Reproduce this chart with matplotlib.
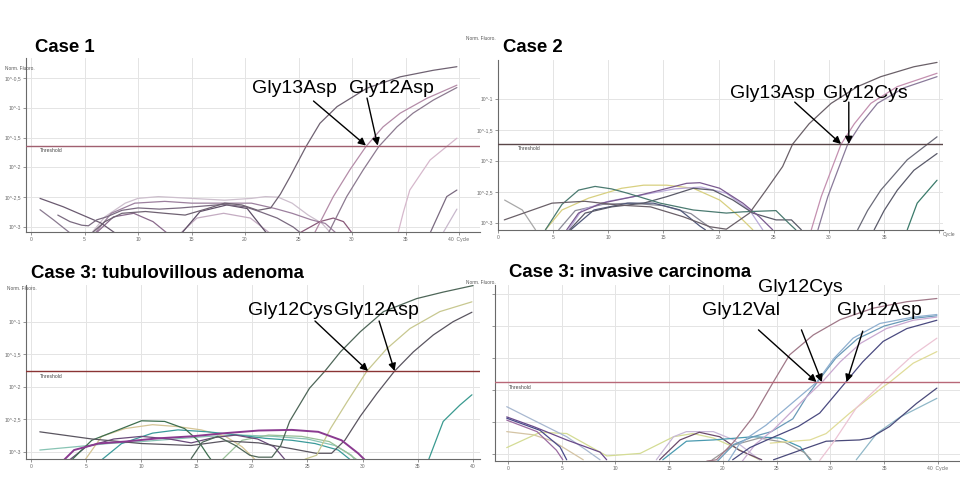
import numpy as np
import matplotlib
matplotlib.use('Agg')
import matplotlib.pyplot as plt

plt.rcParams['font.family'] = ['Liberation Sans', 'DejaVu Sans']

# x axis: PCR cycle, y axis: log10 of normalised fluorescence
cycle_ticks = [0, 5, 10, 15, 20, 25, 30, 35, 40]
log_ticks = [-0.5, -1.0, -1.5, -2.0, -2.5, -3.0]
log_tick_labels = ['10^-0,5', '10^-1', '10^-1,5', '10^-2', '10^-2,5', '10^-3']

titles = ['Case 1', 'Case 2', 'Case 3: tubulovillous adenoma', 'Case 3: invasive carcinoma']
thresholds = [-1.633, -1.726, -1.754, -1.875]

# ---------------- Case 1 ----------------
p1_a = [(5.7, -3.1), (6.9, -2.91), (8.5, -2.77), (10.7, -2.74), (12.5, -2.77), (14.4, -2.8), (16.5, -2.69),
        (18.1, -2.6), (19.7, -2.63), (21.2, -2.72), (22.4, -2.68), (23.3, -2.45), (24.2, -2.16), (25.7, -1.65),
        (27.0, -1.26), (28.6, -0.98), (31.4, -0.67), (34.5, -0.48), (37.6, -0.37), (39.8, -0.31)]
p1_b = [(26.5, -3.1), (28.25, -2.49), (29.8, -2.04), (31.3, -1.65), (32.9, -1.32), (34.5, -1.09), (37.0, -0.84), (39.8, -0.62)]
p1_c = [(27.8, -3.1), (29.5, -2.49), (31.05, -2.04), (32.5, -1.65), (34.2, -1.32), (35.7, -1.09), (37.6, -0.87), (39.8, -0.66)]
p1_d = [(34.3, -3.1), (34.8, -2.75), (35.4, -2.38), (37.3, -1.875), (39.8, -1.51)]
p1_e = [(37.3, -3.1), (38.85, -2.49), (39.8, -2.38)]
p1_f = [(38.5, -3.1), (39.8, -2.7)]
p1_g = [(0.84, -2.52), (3.0, -2.66), (5.2, -2.83), (6.5, -2.93), (7.85, -3.1)]
p1_h = [(0.84, -2.71), (2.1, -2.88), (3.64, -3.1)]
p1_i = [(2.5, -2.8), (3.64, -2.91), (4.74, -2.97), (5.36, -2.98), (6.14, -2.88), (7.07, -2.83), (8.5, -2.72),
        (10.0, -2.68), (12.0, -2.7), (14.0, -2.68), (16.0, -2.65), (18.0, -2.62), (20.0, -2.66), (21.5, -2.75),
        (23.0, -2.85), (24.5, -3.0), (25.2, -3.1)]
p1_j = [(5.67, -3.1), (6.9, -2.83), (8.8, -2.6), (10.0, -2.52), (11.9, -2.49), (15.0, -2.52), (18.1, -2.55),
        (20.6, -2.52), (21.9, -2.49), (23.1, -2.5), (24.4, -2.6), (25.9, -2.8), (27.2, -2.94), (28.0, -3.1)]
p1_k = [(6.0, -3.1), (7.5, -2.77), (9.7, -2.6), (12.5, -2.57), (15.0, -2.6), (18.1, -2.6), (20.6, -2.6),
        (22.8, -2.69), (24.4, -2.77), (26.2, -2.88), (27.5, -2.94), (28.5, -3.1)]
p1_l = [(6.1, -3.1), (7.7, -2.83), (9.6, -2.77), (11.4, -2.91), (12.7, -3.1)]
p1_m = [(14.1, -3.1), (15.8, -2.74), (18.3, -2.63), (20.2, -2.69), (22.0, -3.1)]
p1_n = [(14.0, -3.1), (15.5, -2.85), (18.0, -2.77), (20.5, -2.85), (22.3, -3.1)]
p1_o = [(25.1, -3.1), (27.0, -2.91), (28.25, -2.85), (29.2, -2.91), (30.0, -3.1)]

# ---------------- Case 2 ----------------
p2_a = [(0.57, -2.95), (4.89, -2.68), (7.87, -2.65), (10.85, -2.71), (13.83, -2.74), (16.8, -2.9), (19.2, -3.06),
        (20.7, -3.1), (22.8, -2.84), (24.3, -2.47), (25.8, -2.09), (26.7, -1.73), (28.2, -1.40), (30.2, -1.07),
        (32.6, -0.80), (34.7, -0.64), (37.7, -0.48), (39.8, -0.41)]
p2_b = [(28.4, -3.11), (29.3, -2.575), (30.2, -2.15), (31.1, -1.73), (32.3, -1.40), (33.8, -1.07), (36.2, -0.80), (39.8, -0.585)]
p2_c = [(29.0, -3.11), (29.9, -2.575), (30.8, -2.15), (31.7, -1.73), (32.9, -1.40), (34.4, -1.07), (36.8, -0.82), (39.8, -0.64)]
p2_d = [(32.6, -3.11), (33.5, -2.8), (34.7, -2.47), (37.1, -1.98), (39.8, -1.61)]
p2_e = [(34.1, -3.11), (35.0, -2.8), (36.2, -2.47), (37.7, -2.15), (39.8, -1.88)]
p2_f = [(37.1, -3.11), (38.0, -2.68), (39.8, -2.31)]
p2_g = [(4.3, -3.11), (5.8, -2.7), (7.3, -2.47), (8.8, -2.41), (10.3, -2.45), (11.75, -2.52), (14.7, -2.68),
        (17.7, -2.79), (20.7, -2.84), (22.2, -2.82), (25.2, -2.8), (26.4, -3.01), (27.0, -3.11)]
p2_h = [(4.3, -3.11), (5.8, -2.79), (8.2, -2.6), (11.2, -2.44), (13.2, -2.39), (15.3, -2.39), (17.7, -2.44),
        (20.1, -2.63), (21.9, -2.9), (23.1, -3.11)]
p2_i = [(6.23, -3.11), (7.3, -2.84), (9.4, -2.68), (12.3, -2.575), (14.7, -2.47), (17.1, -2.36), (18.3, -2.35),
        (20.1, -2.44), (22.2, -2.68), (23.7, -2.9), (24.9, -3.11)]
p2_j = [(6.4, -3.11), (7.6, -2.79), (10.0, -2.65), (13.0, -2.55), (16.0, -2.45), (18.4, -2.42), (20.7, -2.52),
        (22.8, -2.79), (24.0, -3.11)]
p2_k = [(6.5, -3.11), (7.9, -2.84), (10.3, -2.74), (13.2, -2.68), (15.3, -2.575), (17.7, -2.44), (19.5, -2.47),
        (21.3, -2.63), (23.1, -2.84), (25.2, -2.95), (26.6, -2.95), (27.5, -3.11)]
p2_l = [(6.6, -3.11), (8.7, -2.79), (11.75, -2.68), (14.1, -2.68), (16.5, -2.79), (18.3, -3.05), (18.8, -3.11)]
p2_m = [(0.6, -2.63), (2.2, -2.79), (3.4, -3.11)]
p2_n = [(5.5, -3.11), (7.0, -2.8), (9.5, -2.7), (12.0, -2.68), (15.0, -2.72), (17.5, -2.85), (19.5, -3.11)]

# ---------------- Case 3: tubulovillous adenoma ----------------
p3_a = [(14.5, -3.1), (15.5, -2.85), (16.9, -2.76), (18.5, -2.9), (19.8, -3.05), (20.6, -3.08), (21.8, -3.08),
        (22.6, -2.9), (23.4, -2.53), (25.2, -2.02), (26.6, -1.755), (28.0, -1.46), (29.8, -1.15), (31.9, -0.84),
        (34.9, -0.64), (37.3, -0.54), (40.0, -0.44)]
p3_b = [(24.8, -3.11), (25.85, -3.05), (27.1, -2.64), (28.6, -2.23), (30.4, -1.755), (32.2, -1.41), (34.3, -1.10),
        (37.0, -0.84), (39.9, -0.69)]
p3_c = [(0.8, -2.69), (5.5, -2.8), (10.0, -2.87), (14.5, -2.9), (17.6, -2.83), (20.6, -2.86), (23.6, -2.95),
        (25.8, -3.02), (27.2, -3.02), (28.4, -2.82), (29.8, -2.45), (31.3, -2.1), (32.9, -1.755), (34.6, -1.46),
        (36.4, -1.20), (38.2, -0.995), (39.9, -0.85)]
p3_d = [(3.7, -3.12), (5.5, -2.82), (7.9, -2.66), (10.0, -2.52), (12.1, -2.53), (13.9, -2.64), (15.1, -2.82),
        (16.0, -3.05), (16.3, -3.12)]
p3_e = [(4.9, -3.12), (6.4, -2.76), (8.5, -2.64), (11.0, -2.58), (13.3, -2.61), (15.4, -2.66), (17.6, -2.76),
        (19.1, -2.92), (20.3, -3.12)]
p3_f = [(6.4, -3.12), (8.2, -2.87), (11.0, -2.71), (13.3, -2.66), (16.0, -2.69), (18.8, -2.74), (21.2, -2.79),
        (23.6, -2.82), (25.7, -2.87), (27.8, -2.97), (28.9, -3.12)]
p3_g = [(3.0, -3.12), (3.9, -2.97), (6.1, -2.87), (8.5, -2.84), (11.5, -2.79), (14.5, -2.76), (17.6, -2.71),
        (20.6, -2.67), (23.6, -2.66), (26.0, -2.69), (28.1, -2.82), (29.6, -3.02), (30.2, -3.12)]
p3_h = [(0.8, -2.97), (4.0, -2.92), (7.0, -2.87), (10.0, -2.84), (13.0, -2.8), (16.0, -2.76), (19.0, -2.74),
        (22.0, -2.76), (25.0, -2.8), (27.5, -2.9), (29.0, -3.05), (29.3, -3.12)]
p3_i = [(3.5, -3.12), (5.0, -2.92), (7.5, -2.8), (10.0, -2.76), (12.5, -2.8), (14.5, -2.86), (16.5, -2.78),
        (18.5, -2.74), (20.5, -2.8), (22.0, -2.92), (23.0, -3.12)]
p3_j = [(17.3, -3.12), (19.1, -2.82), (21.5, -2.74), (24.5, -2.76), (27.0, -2.84), (28.5, -3.0), (29.5, -3.12)]
p3_k = [(36.0, -3.11), (37.3, -2.53), (38.8, -2.28), (39.9, -2.12)]

# ---------------- Case 3: invasive carcinoma ----------------
p4_a = [(18.5, -3.11), (19.4, -3.09), (21.0, -2.81), (22.8, -2.42), (24.7, -1.87), (26.2, -1.45), (28.4, -1.14),
        (30.9, -0.9), (34.0, -0.72), (37.1, -0.62), (39.9, -0.57)]
p4_b = [(20.5, -3.11), (21.5, -2.85), (22.5, -2.72), (24.0, -2.55), (25.9, -2.28), (28.7, -1.88), (30.3, -1.51),
        (32.1, -1.19), (34.6, -0.96), (37.7, -0.86), (39.9, -0.82)]
p4_b2 = [(19.5, -3.11), (21.0, -2.85), (22.8, -2.73), (24.5, -2.65), (26.5, -2.45), (27.8, -2.1), (28.9, -1.85),
         (30.5, -1.5), (32.5, -1.2), (35.0, -1.0), (37.7, -0.88), (39.9, -0.84)]
p4_c = [(21.8, -3.11), (23.0, -2.85), (24.7, -2.62), (27.2, -2.2), (29.2, -1.88), (30.9, -1.56), (32.8, -1.27),
        (35.2, -1.04), (37.7, -0.91), (39.9, -0.86)]
p4_d = [(20.9, -3.09), (22.5, -2.9), (24.1, -2.78), (27.0, -2.57), (29.0, -2.36), (30.3, -2.1), (31.4, -1.88),
        (33.0, -1.56), (34.9, -1.24), (37.1, -1.04), (39.9, -0.91)]
p4_e = [(29.0, -3.1), (30.3, -2.81), (32.4, -2.28), (34.9, -1.88), (37.7, -1.45), (39.9, -1.19)]
p4_f = [(24.4, -2.83), (26.5, -2.8), (28.1, -2.78), (29.6, -2.68), (31.8, -2.36), (34.9, -1.95), (35.5, -1.88),
        (37.7, -1.58), (39.9, -1.40)]
p4_g = [(24.7, -3.09), (27.2, -2.94), (29.6, -2.8), (32.7, -2.78), (33.7, -2.75), (35.5, -2.57), (38.0, -2.21), (39.9, -1.97)]
p4_h = [(32.4, -3.09), (34.3, -2.68), (36.5, -2.42), (39.9, -2.13)]
p4_i = [(-0.12, -2.26), (2.36, -2.47), (5.46, -2.73), (7.3, -2.94), (8.56, -3.09)]
p4_j = [(-0.12, -2.42), (2.36, -2.57), (5.46, -2.78), (8.56, -2.97), (9.18, -3.09)]
p4_k = [(-0.12, -2.44), (2.98, -2.63), (4.84, -2.89), (5.46, -3.09)]
p4_l = [(-0.12, -2.47), (2.7, -2.65), (4.5, -2.94), (5.1, -3.09)]
p4_m = [(-0.12, -2.65), (2.36, -2.7), (4.2, -2.8), (7.0, -3.09)]
p4_n = [(-0.12, -2.9), (3.0, -2.66), (5.46, -2.68), (9.2, -3.03), (12.3, -2.99), (15.4, -2.73), (17.2, -2.68),
        (19.1, -2.75), (21.0, -2.89), (23.4, -3.09)]
p4_o = [(13.8, -3.09), (15.4, -2.73), (16.6, -2.65), (19.1, -2.65), (21.0, -2.78), (23.4, -3.09)]
p4_p = [(14.1, -3.09), (16.0, -2.78), (17.8, -2.66), (19.7, -2.73), (21.5, -2.94), (23.6, -3.09)]
p4_q = [(14.4, -3.09), (16.6, -2.8), (19.1, -2.78), (22.8, -2.73), (25.3, -2.75), (27.2, -2.89), (28.1, -3.09)]
p4_r = [(19.0, -3.09), (21.0, -2.86), (23.4, -2.75), (25.8, -2.82), (27.6, -2.98), (28.2, -3.09)]

# mutation labels: (text, label x, label baseline y, arrow start, arrow tip)
p1_labels = [('Gly13Asp', 24.6, -0.746, (26.4, -0.886), (31.3, -1.633)),
             ('Gly12Asp', 33.7, -0.746, (31.4, -0.836), (32.4, -1.633))]
p2_labels = [('Gly13Asp', 24.9, -0.98, (26.9, -1.05), (31.1, -1.726)),
             ('Gly12Cys', 33.3, -0.98, (31.8, -1.05), (31.8, -1.726))]
p3_labels = [('Gly12Cys', 23.5, -0.89, (25.7, -0.985), (30.5, -1.754)),
             ('Gly12Asp', 31.3, -0.89, (31.5, -0.985), (32.9, -1.754))]
p4_labels = [('Gly12Cys', 27.2, -0.47, (27.3, -1.06), (29.2, -1.875)),
             ('Gly12Val', 21.7, -0.83, (23.3, -1.06), (28.7, -1.875)),
             ('Gly12Asp', 34.6, -0.83, (33.0, -1.08), (31.5, -1.875))]

W, H = 960, 497
fig = plt.figure(figsize=(W / 100, H / 100), dpi=100)
fig.patch.set_facecolor('white')


def rect_px(left, top, right, bottom):
    return [left / W, 1 - bottom / H, (right - left) / W, (bottom - top) / H]


def draw_curve(ax, pts, color, lw=0.9):
    arr = np.array(pts)
    ax.plot(arr[:, 0], arr[:, 1], color=color, lw=lw, solid_capstyle='round')


def setup(ax, xlim, ylim, thr, thr_color, last_label, show_ylabels=True):
    ax.set_xlim(xlim)
    ax.set_ylim(ylim)
    for s in ['top', 'right']:
        ax.spines[s].set_visible(False)
    for s in ['left', 'bottom']:
        ax.spines[s].set_color('#6a6a6a')
        ax.spines[s].set_linewidth(0.8)
    ax.set_xticks(cycle_ticks)
    ax.set_xticklabels([str(c) for c in cycle_ticks[:-1]] + [last_label])
    ax.set_yticks(log_ticks)
    if show_ylabels:
        ax.set_yticklabels(log_tick_labels)
    else:
        ax.set_yticklabels([])
    ax.tick_params(labelsize=3.6, length=2, width=0.5, colors='#6a6a6a', pad=1.5)
    ax.grid(color='#e4e4e4', lw=0.7)
    ax.set_axisbelow(True)
    ax.axhline(thr, color=thr_color, lw=1.0, zorder=3)
    ax.text(xlim[0] + 1.3, thr - 0.04, 'Threshold', fontsize=3.6, color='#444444', va='top')


def label_arrows(ax, labels):
    for txt, lx, ly, start, tip in labels:
        ax.text(lx, ly, txt, fontsize=14, ha='center', va='baseline', clip_on=False, zorder=5)
        ax.annotate('', xy=tip, xytext=start, zorder=6, annotation_clip=False,
                    arrowprops=dict(arrowstyle='-|>', color='black', lw=1.0, mutation_scale=11,
                                    shrinkA=0, shrinkB=0))


# panel 1
ax1 = fig.add_axes(rect_px(26, 58, 480, 232))
setup(ax1, (-0.47, 41.96), (-3.084, -0.164), thresholds[0], '#a06070', '40  Cycle')
for pts, col in [(p1_j, '#cdbfcd'), (p1_n, '#c4acc2'), (p1_k, '#9c809e'), (p1_l, '#8a6a8c'), (p1_m, '#5e4e66'),
                 (p1_o, '#8a5a7a'), (p1_g, '#6a5a70'), (p1_h, '#8a7a90'), (p1_i, '#7a6a80'),
                 (p1_d, '#d6b8cc'), (p1_e, '#7a6a80'), (p1_f, '#c8b8cc'),
                 (p1_b, '#b48ca8'), (p1_c, '#8c7a90'), (p1_a, '#6f6272')]:
    draw_curve(ax1, pts, col)
label_arrows(ax1, p1_labels)

# panel 2
ax2 = fig.add_axes(rect_px(498, 60, 943, 230))
setup(ax2, (0.54, 40.34), (-3.113, -0.371), thresholds[1], '#5a4648', '')
ax2.set_yticks(log_ticks[1:])
ax2.set_yticklabels(log_tick_labels[1:])
ax2.text(1.0, -0.01, 'Cycle', transform=ax2.transAxes, fontsize=3.6, color='#6a6a6a', ha='left', va='top')
for pts, col in [(p2_m, '#a8a8a8'), (p2_n, '#8a8a96'), (p2_h, '#d8d080'), (p2_j, '#b8a8d8'), (p2_l, '#50587a'),
                 (p2_k, '#5a5a68'), (p2_i, '#7a5a90'), (p2_g, '#4a7a70'),
                 (p2_d, '#6a6a78'), (p2_e, '#5a5a6a'), (p2_f, '#3a7a6a'),
                 (p2_b, '#c490b0'), (p2_c, '#8a7a9a'), (p2_a, '#6a6068')]:
    draw_curve(ax2, pts, col)
label_arrows(ax2, p2_labels)

# panel 3
ax3 = fig.add_axes(rect_px(26, 285, 480, 459))
setup(ax3, (-0.45, 40.63), (-3.108, -0.431), thresholds[2], '#8a3434', '40')
ax3.set_yticks(log_ticks[1:])
ax3.set_yticklabels(log_tick_labels[1:])
for pts, col in [(p3_h, '#88c4b4'), (p3_j, '#98c098'), (p3_e, '#d4c494'), (p3_f, '#3a9a9a'), (p3_i, '#6a4a7a'),
                 (p3_d, '#3d6e4e'), (p3_k, '#3a9a90'), (p3_c, '#5a5560'), (p3_b, '#c8c890'), (p3_a, '#4e6658')]:
    draw_curve(ax3, pts, col)
draw_curve(ax3, p3_g, '#8a3a90', lw=1.4)
label_arrows(ax3, p3_labels)

# panel 4
ax4 = fig.add_axes(rect_px(495, 285, 960, 461))
setup(ax4, (-1.21, 42.05), (-3.109, -0.359), thresholds[3], '#b86878', '40  Cycle', show_ylabels=False)
for pts, col in [(p4_m, '#d4c4a4'), (p4_n, '#d4dc94'), (p4_i, '#a8b8d0'), (p4_l, '#9a6aa0'), (p4_j, '#6a4a8a'),
                 (p4_k, '#4a4a8a'), (p4_o, '#c8b8d8'), (p4_p, '#6a4a6a'), (p4_q, '#4a9ab0'), (p4_r, '#9a9a9a'),
                 (p4_h, '#90b8c8'), (p4_g, '#4a4a7a'), (p4_f, '#e0dc98'), (p4_e, '#ecc4d4'),
                 (p4_b2, '#6a9ab8'), (p4_b, '#90b0d0'), (p4_c, '#c8a8d0'), (p4_d, '#4a4a80'), (p4_a, '#a07888')]:
    draw_curve(ax4, pts, col)
label_arrows(ax4, p4_labels)

# y-axis captions of the instrument screenshots
for x, y in [(5, 68), (466, 39), (7, 288), (466, 283)]:
    fig.text(x / W, 1 - y / H, 'Norm. Fluoro.', fontsize=3.4, color='#555555', ha='left', va='center')

# panel titles
for txt, (x, y) in zip(titles, [(35, 52), (503, 52), (31, 278), (509, 277)]):
    fig.text(x / W, 1 - y / H, txt, fontsize=13.4, fontweight='bold', ha='left', va='baseline')

fig.savefig('out.png', dpi=100, facecolor='white')
